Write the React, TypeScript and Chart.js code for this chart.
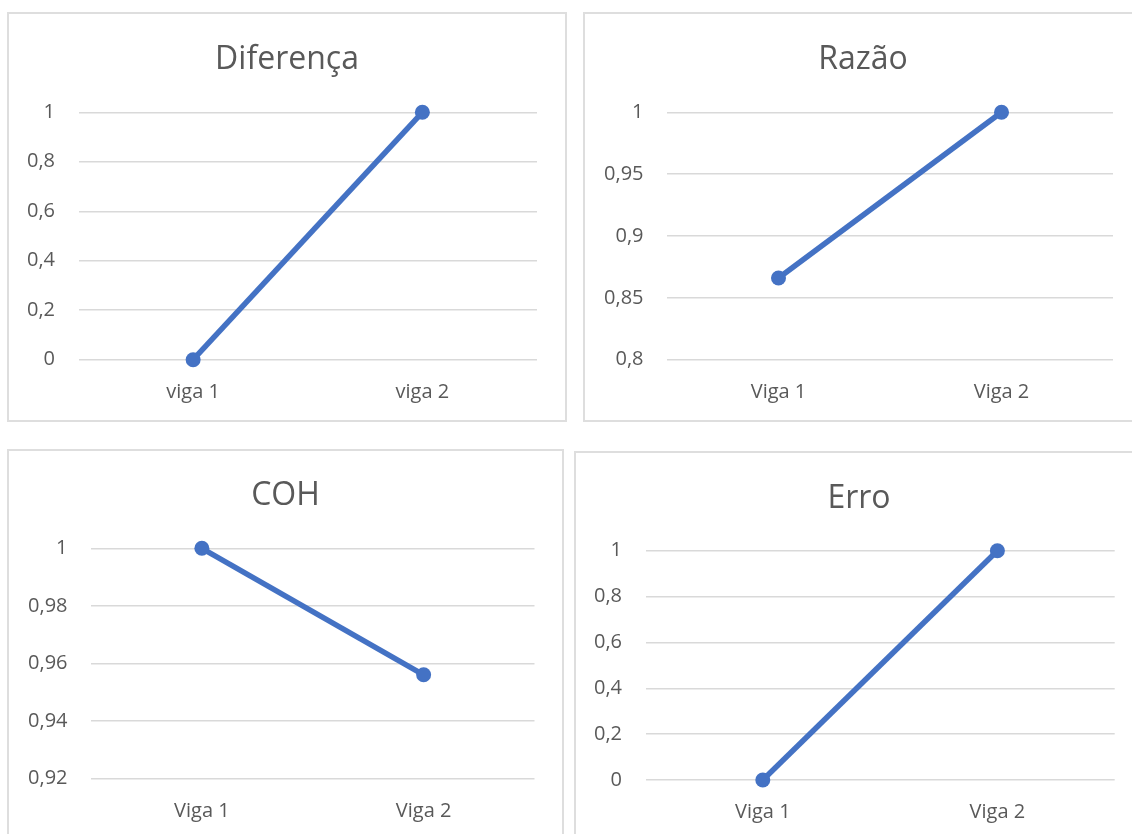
import React, { useEffect, useRef } from "react";
import { Chart, registerables } from "chart.js";

Chart.register(...registerables);

// Categories
const vigaLower = ["viga 1", "viga 2"];
const vigaUpper = ["Viga 1", "Viga 2"];

// Series values
const diferencaValues = [0, 1];
const razaoValues = [0.866, 1];
const cohValues = [1, 0.956];
const erroValues = [0, 1];

// Y-axis tick values
const diferencaTicks = [0, 0.2, 0.4, 0.6, 0.8, 1];
const razaoTicks = [0.8, 0.85, 0.9, 0.95, 1];
const cohTicks = [0.92, 0.94, 0.96, 0.98, 1];
const erroTicks = [0, 0.2, 0.4, 0.6, 0.8, 1];

const BLUE = "#4472C4";
const TEXT = "#595959";
const GRID = "#d9d9d9";
const FRAME = "#dedede";
const FONT = "'Open Sans', 'Noto Sans', sans-serif";
const TITLE_SIZE = 32;
const TICK_SIZE = 20;
const X_AXIS_H = 44;
const FRAME_W = 2;

type Box = { x: number; y: number; w: number; h: number };
type Area = { l: number; r: number; t: number; b: number };
type PanelCfg = {
  title: string;
  labels: string[];
  values: number[];
  ticks: number[];
  box: Box;
  area: Area;
  titleY: number;
};

const panels: PanelCfg[] = [
  {
    title: "Diferença",
    labels: vigaLower,
    values: diferencaValues,
    ticks: diferencaTicks,
    box: { x: 7, y: 12, w: 560, h: 410 },
    area: { l: 78.5, r: 537, t: 112.3, b: 359.7 },
    titleY: 58,
  },
  {
    title: "Razão",
    labels: vigaUpper,
    values: razaoValues,
    ticks: razaoTicks,
    box: { x: 583, y: 12, w: 560, h: 410 },
    area: { l: 667, r: 1113, t: 112.3, b: 359.7 },
    titleY: 58,
  },
  {
    title: "COH",
    labels: vigaUpper,
    values: cohValues,
    ticks: cohTicks,
    box: { x: 7, y: 449, w: 557, h: 400 },
    area: { l: 91, r: 534.5, t: 548.3, b: 778.3 },
    titleY: 493.5,
  },
  {
    title: "Erro",
    labels: vigaUpper,
    values: erroValues,
    ticks: erroTicks,
    box: { x: 574, y: 451, w: 570, h: 400 },
    area: { l: 645.5, r: 1114.7, t: 550.7, b: 780 },
    titleY: 496.5,
  },
];

const formatTick = (v: number) => String(v).replace(".", ",");

function LinePanel({ cfg }: { cfg: PanelCfg }) {
  const ref = useRef<HTMLCanvasElement | null>(null);
  const cw = cfg.box.w - 2 * FRAME_W;
  const ch = cfg.box.h - 2 * FRAME_W;

  useEffect(() => {
    if (!ref.current) return;
    const ox = cfg.box.x + FRAME_W;
    const oy = cfg.box.y + FRAME_W;
    const cl = cfg.area.l - ox;
    const cr = cfg.area.r - ox;
    const ct = cfg.area.t - oy;
    const cb = cfg.area.b - oy;
    // empty room on the right of the plot, held by a blank axis so the
    // title stays centred on the whole panel
    const rightGap = cw - cr;
    // small shift so the capitals sit centred on the intended line
    const ty = cfg.titleY - oy + 2;
    const titleLine = TITLE_SIZE * 1.2;

    const chart = new Chart(ref.current, {
      type: "line",
      data: {
        labels: cfg.labels,
        datasets: [
          {
            data: cfg.values,
            yAxisID: "y",
            borderColor: BLUE,
            backgroundColor: BLUE,
            borderWidth: 5.5,
            pointRadius: 7.5,
            pointHoverRadius: 7.5,
            pointBackgroundColor: BLUE,
            pointBorderWidth: 0,
            tension: 0,
            clip: false,
          },
        ],
      },
      options: {
        responsive: false,
        animation: false,
        events: [],
        layout: {
          padding: {
            left: 0,
            top: 0,
            right: 0,
            bottom: ch - cb - X_AXIS_H,
          },
        },
        plugins: {
          legend: { display: false },
          tooltip: { enabled: false },
          title: {
            display: true,
            text: cfg.title,
            color: TEXT,
            font: { family: FONT, size: TITLE_SIZE, weight: "normal" },
            padding: {
              top: ty - titleLine / 2,
              bottom: ct - (ty + titleLine / 2),
            },
          },
        },
        scales: {
          x: {
            offset: true,
            grid: { display: false, drawTicks: false },
            border: { display: false },
            afterFit: (s: any) => {
              s.height = X_AXIS_H;
            },
            ticks: {
              padding: 20.5,
              color: TEXT,
              font: { family: FONT, size: TICK_SIZE },
            },
          },
          y: {
            position: "left",
            min: cfg.ticks[0],
            max: cfg.ticks[cfg.ticks.length - 1],
            afterBuildTicks: (s: any) => {
              s.ticks = cfg.ticks.map((v) => ({ value: v }));
            },
            afterFit: (s: any) => {
              s.width = cl;
            },
            grid: { color: GRID, lineWidth: 1.5, drawTicks: false },
            border: { display: false },
            ticks: {
              padding: 23.5,
              color: TEXT,
              font: { family: FONT, size: TICK_SIZE },
              callback: (v: any) => formatTick(Number(v)),
            },
          },
          yGap: {
            position: "right",
            afterFit: (s: any) => {
              s.width = rightGap;
            },
            grid: { display: false, drawTicks: false },
            border: { display: false },
            ticks: { display: false },
          },
        },
      },
    } as any);
    return () => chart.destroy();
  }, [cfg]);

  return (
    <div
      style={{
        position: "absolute",
        left: cfg.box.x,
        top: cfg.box.y,
        width: cfg.box.w,
        height: cfg.box.h,
        border: `${FRAME_W}px solid ${FRAME}`,
        boxSizing: "border-box",
        background: "#ffffff",
      }}
    >
      <canvas ref={ref} width={cw} height={ch} style={{ display: "block" }} />
    </div>
  );
}

export default function App() {
  return (
    <div
      style={{
        position: "fixed",
        left: 0,
        top: 0,
        width: 1132,
        height: 834,
        overflow: "hidden",
        background: "#ffffff",
      }}
    >
      {panels.map((p) => (
        <LinePanel key={p.title} cfg={p} />
      ))}
    </div>
  );
}
